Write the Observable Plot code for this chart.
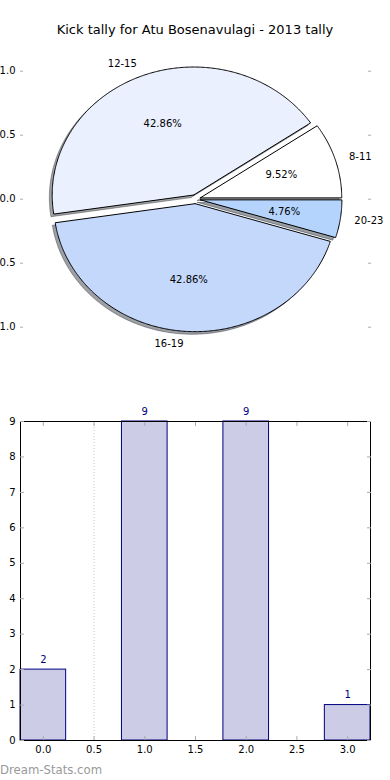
<!DOCTYPE html>
<html>
<head>
<meta charset="utf-8">
<script src="https://cdn.jsdelivr.net/npm/d3@7"></script>
<script src="https://cdn.jsdelivr.net/npm/@observablehq/plot@0.6"></script>
<style>
  html, body { margin: 0; padding: 0; background: #fff; }
  body { width: 390px; height: 780px; overflow: hidden; position: relative; font-family: "DejaVu Sans", sans-serif; }
  #title { position: absolute; left: 0; top: 22px; width: 390px; text-align: center; font-size: 13px; line-height: 16px; color: #000; }
  #pie { position: absolute; left: 0; top: 45px; }
  #bars { position: absolute; left: 0; top: 390px; }
  #mark { position: absolute; left: 0; top: 762px; font-size: 11.7px; line-height: 16px; color: #999; }
  svg { display: block; }
</style>
</head>
<body>
<div id="title">Kick tally for Atu Bosenavulagi - 2013 tally</div>
<div id="pie"></div>
<div id="bars"></div>
<div id="mark">Dream-Stats.com</div>
<script>
// ---- data ----
const ageGroups = ["8-11", "12-15", "16-19", "20-23"];
const kickCounts = [2, 9, 9, 1];
const sliceColors = ["#ffffff", "#eaf0fd", "#c4d8fc", "#b4d4fe"];
const explode = [0.035, 0.035, 0.035, 0.035];
const pieTicks = [-1, -0.5, 0, 0.5, 1];

const barPositions = [0, 1, 2, 3];
const barValues = [2, 9, 9, 1];
const barWidth = 0.45;
const barXTicks = [0, 0.5, 1, 1.5, 2, 2.5, 3];
const barYTicks = [0, 1, 2, 3, 4, 5, 6, 7, 8, 9];
const gridX = [0.5];

// ---- pie geometry (derived from the counts) ----
const total = d3.sum(kickCounts);
let acc = 0;
const wedges = kickCounts.map((v, i) => {
  const t1 = acc / total * 2 * Math.PI;
  acc += v;
  const t2 = acc / total * 2 * Math.PI;
  const tm = (t1 + t2) / 2;
  const cx = explode[i] * Math.cos(tm), cy = explode[i] * Math.sin(tm);
  const n = Math.max(2, Math.ceil((t2 - t1) / (Math.PI / 360)));
  const pts = [{x: cx, y: cy}];
  for (let k = 0; k <= n; k++) {
    const t = t1 + (t2 - t1) * k / n;
    pts.push({x: cx + Math.cos(t), y: cy + Math.sin(t)});
  }
  pts.push({x: cx, y: cy});
  return {
    i, label: ageGroups[i], color: sliceColors[i],
    pct: (v / total * 100).toFixed(2) + "%",
    lx: cx + 1.1 * Math.cos(tm), ly: cy + 1.1 * Math.sin(tm),
    px: cx + 0.6 * Math.cos(tm), py: cy + 0.6 * Math.sin(tm),
    pts,
    shadow: pts.map(p => ({x: p.x - 0.02, y: p.y - 0.02}))
  };
});

function shadowColor(c) {
  const r = d3.rgb(c);
  return d3.rgb(r.r * 0.3, r.g * 0.3, r.b * 0.3).formatHex();
}

const pieMarks = [];
wedges.forEach(w => {
  pieMarks.push(Plot.line(w.shadow, {x: "x", y: "y", fill: shadowColor(w.color), stroke: shadowColor(w.color),
    fillOpacity: 0.5, strokeOpacity: 0.5, strokeWidth: 1, strokeLinejoin: "miter"}));
});
wedges.forEach(w => {
  pieMarks.push(Plot.line(w.pts, {x: "x", y: "y", fill: w.color, stroke: "#000", strokeWidth: 1, strokeLinejoin: "miter"}));
});
pieMarks.push(
  Plot.text(wedges.filter(w => w.lx >= 0), {x: "lx", y: "ly", text: "label", textAnchor: "start", fill: "#000"}),
  Plot.text(wedges.filter(w => w.lx < 0), {x: "lx", y: "ly", text: "label", textAnchor: "end", fill: "#000"}),
  Plot.text(wedges, {x: "px", y: "py", text: "pct", fill: "#000"}),
  Plot.axisY(pieTicks, {anchor: "left", tickSize: -3, tickPadding: 8, stroke: "#aaa", fill: "#000",
    tickFormat: d => d.toFixed(1), label: null}),
  Plot.axisY(pieTicks, {anchor: "right", tickSize: -3, stroke: "#aaa", fill: "none", label: null})
);

const pieCx = 195, pieRx = 141.5, pieCy = 198.7 - 45, pieRy = 128;
const pie = Plot.plot({
  width: 390, height: 345,
  marginLeft: 20, marginRight: 20, marginTop: 0, marginBottom: 0,
  x: {domain: [-1, 1], range: [pieCx - pieRx, pieCx + pieRx], axis: null},
  y: {domain: [-1, 1], range: [pieCy + pieRy, pieCy - pieRy], axis: null},
  style: {fontFamily: "DejaVu Sans", fontSize: "10px", background: "transparent", overflow: "visible"},
  marks: pieMarks
});
document.getElementById("pie").appendChild(pie);

// ---- bar chart ----
const bars = barPositions.map((p, i) => ({x: p, value: barValues[i]}));
const barChart = Plot.plot({
  width: 390, height: 390,
  marginLeft: 20, marginRight: 20, marginTop: 31, marginBottom: 40,
  x: {domain: [d3.min(barPositions) - barWidth / 2, d3.max(barPositions) + barWidth / 2], axis: null},
  y: {domain: [0, d3.max(barValues)], axis: null},
  style: {fontFamily: "DejaVu Sans", fontSize: "10px", background: "transparent", overflow: "visible"},
  marks: [
    Plot.ruleX(gridX, {stroke: "#c8c8c8", strokeDasharray: "1,2"}),
    Plot.rectY(bars, {x1: d => d.x - barWidth / 2, x2: d => d.x + barWidth / 2, y: "value",
      fill: "#ccccE6", stroke: "#000080", strokeWidth: 1}),
    Plot.text(bars, {x: "x", y: "value", text: d => String(d.value), dy: -10, fill: "#000080"}),
    Plot.frame({stroke: "#000"}),
    Plot.axisX(barXTicks, {anchor: "bottom", tickSize: -4, tickPadding: 9, stroke: "#aaa", fill: "#000",
      tickFormat: d => d.toFixed(1), label: null}),
    Plot.axisX(barXTicks, {anchor: "top", tickSize: -4, stroke: "#aaa", fill: "none", label: null}),
    Plot.axisY(barYTicks, {anchor: "left", tickSize: -4, tickPadding: 9, stroke: "#aaa", fill: "#000",
      tickFormat: d => String(d), label: null}),
    Plot.axisY(barYTicks, {anchor: "right", tickSize: -4, stroke: "#aaa", fill: "none", label: null})
  ]
});
document.getElementById("bars").appendChild(barChart);
</script>
</body>
</html>
